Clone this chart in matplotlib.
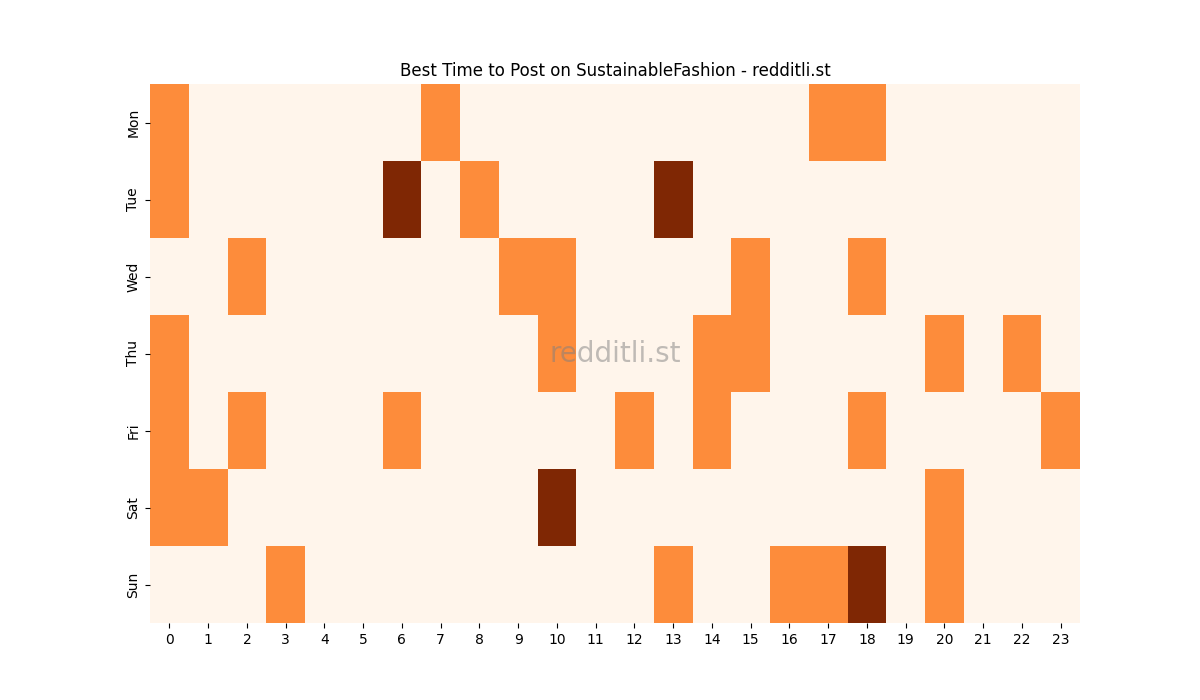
import numpy as np
import matplotlib
matplotlib.use("Agg")
import matplotlib.pyplot as plt
import seaborn as sns

days = ["Mon", "Tue", "Wed", "Thu", "Fri", "Sat", "Sun"]
hours = list(range(24))

# hour -> level (1 = some posts, 2 = most posts); everything else 0
mon = {0: 1, 7: 1, 17: 1, 18: 1}
tue = {0: 1, 6: 2, 8: 1, 13: 2}
wed = {2: 1, 9: 1, 10: 1, 15: 1, 18: 1}
thu = {0: 1, 10: 1, 14: 1, 15: 1, 20: 1, 22: 1}
fri = {0: 1, 2: 1, 6: 1, 12: 1, 14: 1, 18: 1, 23: 1}
sat = {0: 1, 1: 1, 10: 2, 20: 1}
sun = {3: 1, 13: 1, 16: 1, 17: 1, 18: 2, 20: 1}

grid = np.zeros((len(days), len(hours)))
for r, row in enumerate([mon, tue, wed, thu, fri, sat, sun]):
    for h, v in row.items():
        grid[r, h] = v

fig, ax = plt.subplots(figsize=(12, 7), dpi=100)
sns.heatmap(grid, cmap="Oranges", cbar=False, ax=ax,
            xticklabels=hours, yticklabels=days, vmin=0, vmax=2)
ax.set_title("Best Time to Post on SustainableFashion - redditli.st", fontsize=12)
ax.text(0.5, 0.5, "redditli.st", transform=ax.transAxes, ha="center", va="center",
        fontsize=20, color="gray", alpha=0.5)
plt.setp(ax.get_xticklabels(), rotation=0)
plt.setp(ax.get_yticklabels(), rotation=90, va="center")
fig.savefig("out.png", dpi=100)
